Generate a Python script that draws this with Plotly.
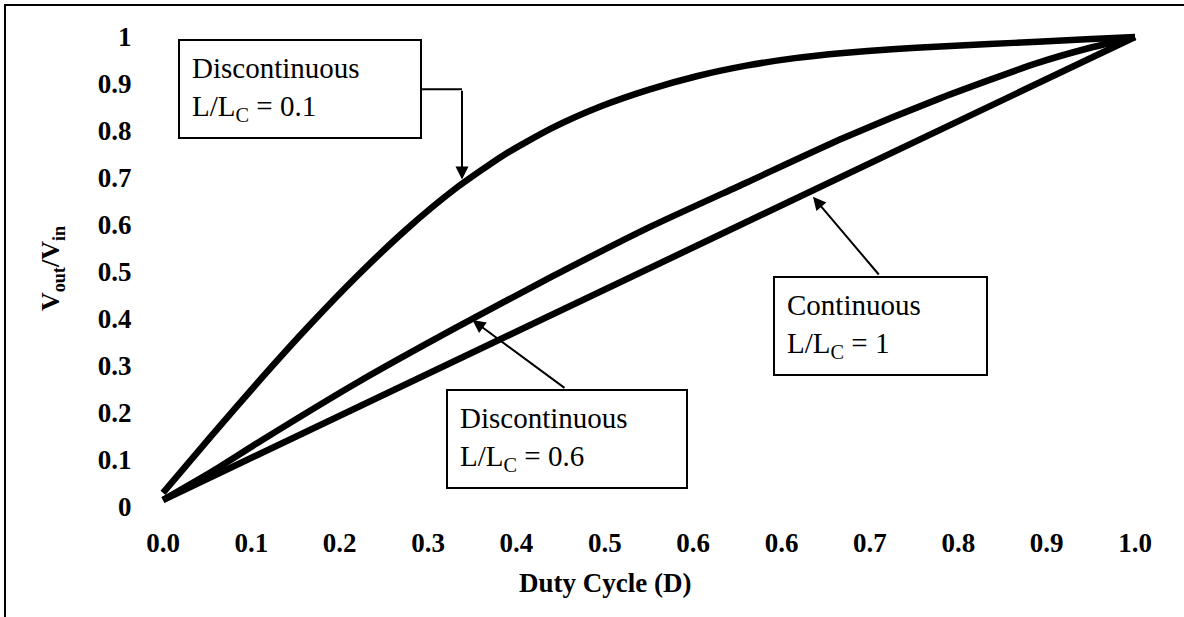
import plotly.graph_objects as go

# ---- data ----
upper_x = [0.0, 0.05, 0.1, 0.15, 0.2, 0.25, 0.3, 0.35, 0.4, 0.45, 0.5,
           0.55, 0.6, 0.65, 0.7, 0.75, 0.8, 0.85, 0.9, 0.95, 1.0]
upper_y = [0.03, 0.152, 0.271, 0.385, 0.492, 0.59, 0.676, 0.748, 0.806, 0.852, 0.888,
           0.917, 0.939, 0.955, 0.966, 0.974, 0.980, 0.985, 0.990, 0.995, 1.0]

mid_x = [0.0, 0.05, 0.1, 0.2, 0.3, 0.4, 0.5, 0.6, 0.7, 0.8, 0.9, 0.95, 1.0]
mid_y = [0.015, 0.075, 0.14, 0.265, 0.38, 0.49, 0.595, 0.69, 0.785, 0.87, 0.945, 0.975, 1.0]

cont_x = [0.0, 0.25, 0.5, 0.75, 1.0]
cont_y = [0.015, 0.261, 0.508, 0.754, 1.0]

x_tick_labels = ["0.0", "0.1", "0.2", "0.3", "0.4", "0.5", "0.6", "0.6", "0.7", "0.8", "0.9", "1.0"]
x_tick_positions = [i / 11 for i in range(12)]
y_tick_labels = ["0", "0.1", "0.2", "0.3", "0.4", "0.5", "0.6", "0.7", "0.8", "0.9", "1"]
y_tick_positions = [0, 0.1, 0.2, 0.3, 0.4, 0.5, 0.6, 0.7, 0.8, 0.9, 1.0]

FONT = "Liberation Serif"

fig = go.Figure()
for xs, ys, name, shape in [
    (upper_x, upper_y, "Discontinuous L/Lc = 0.1", "spline"),
    (mid_x, mid_y, "Discontinuous L/Lc = 0.6", "spline"),
    (cont_x, cont_y, "Continuous L/Lc = 1", "linear"),
]:
    fig.add_trace(go.Scatter(
        x=xs, y=ys, mode="lines", name=name, showlegend=False,
        line=dict(color="black", width=6.5, shape=shape, smoothing=0.6),
        hoverinfo="skip",
    ))

W, H = 1184, 617
ML, MR, MT, MB = 143, 29, 22, 102
PW, PH = W - ML - MR, H - MT - MB

def px_to_paper_x(px):
    return (px - ML) / PW

def py_to_paper_y(py):
    return (H - MB - py) / PH

tickfont = dict(family=FONT, size=27, color="black", weight="bold")

fig.update_layout(
    width=W, height=H, autosize=False,
    margin=dict(l=ML, r=MR, t=MT, b=MB, pad=0),
    plot_bgcolor="white", paper_bgcolor="white",
    xaxis=dict(
        range=[-20 / 972, 1 + 20 / 972], tickmode="array",
        tickvals=x_tick_positions, ticktext=x_tick_labels,
        showgrid=False, zeroline=False, showline=False,
        ticks="outside", ticklen=4, tickcolor="rgba(0,0,0,0)",
        tickfont=tickfont, automargin=False,
    ),
    yaxis=dict(
        range=[-8 / 470, 1 + 15 / 470], tickmode="array",
        tickvals=y_tick_positions, ticktext=y_tick_labels,
        showgrid=False, zeroline=False, showline=False,
        ticks="outside", ticklen=5, tickcolor="rgba(0,0,0,0)",
        tickfont=tickfont, automargin=False,
        title=dict(text="V<sub>out</sub>/V<sub>in</sub>", standoff=30,
                   font=dict(family=FONT, size=26, color="black", weight="bold")),
    ),
)

boxfont = dict(family=FONT, size=29, color="black")
boxes = [
    ("Discontinuous<br>L/L<sub>C</sub> = 0.1", 0.141, 0.889, 216),
    ("Discontinuous<br>L/L<sub>C</sub> = 0.6", 0.4156, 0.1447, 214),
    ("Continuous<br>L/L<sub>C</sub> = 1", 0.738, 0.386, 187),
]
for text, bx, by, bw in boxes:
    fig.add_annotation(
        x=bx, y=by, xref="x", yref="y", text=text, showarrow=False,
        xanchor="center", yanchor="middle", align="left",
        width=bw, height=72, borderpad=12, borderwidth=2,
        bordercolor="black", bgcolor="white", font=boxfont,
    )

arrows = [
    (0.3076, 0.697, 0.3076, 0.889),
    (0.3184, 0.398, 0.4146, 0.251),
    (0.6687, 0.660, 0.7377, 0.4915),
]
for tx, ty, sx, sy in arrows:
    fig.add_annotation(
        x=tx, y=ty, ax=sx, ay=sy, xref="x", yref="y", axref="x", ayref="y",
        text="", showarrow=True, arrowhead=2, arrowsize=1.3, arrowwidth=2,
        arrowcolor="black", standoff=0,
    )

# elbow connector for the first box
fig.add_shape(type="line", xref="x", yref="y", x0=0.2665, y0=0.889, x1=0.3076, y1=0.889,
              line=dict(color="black", width=2))

# x axis title
fig.add_annotation(
    x=0.455, y=py_to_paper_y(583), xref="x", yref="paper", showarrow=False,
    text="Duty Cycle (D)", xanchor="center", yanchor="middle",
    font=dict(family=FONT, size=27, color="black", weight="bold"),
)

# outer chart frame (partially visible)
fig.add_shape(type="rect", xref="paper", yref="paper",
              x0=px_to_paper_x(5), x1=px_to_paper_x(1200),
              y0=py_to_paper_y(640), y1=py_to_paper_y(5),
              line=dict(color="black", width=2), fillcolor="rgba(0,0,0,0)")

fig.write_html("out.html", config={"displayModeBar": False},
               post_script="document.body.style.margin='0';document.body.style.overflow='hidden';")
